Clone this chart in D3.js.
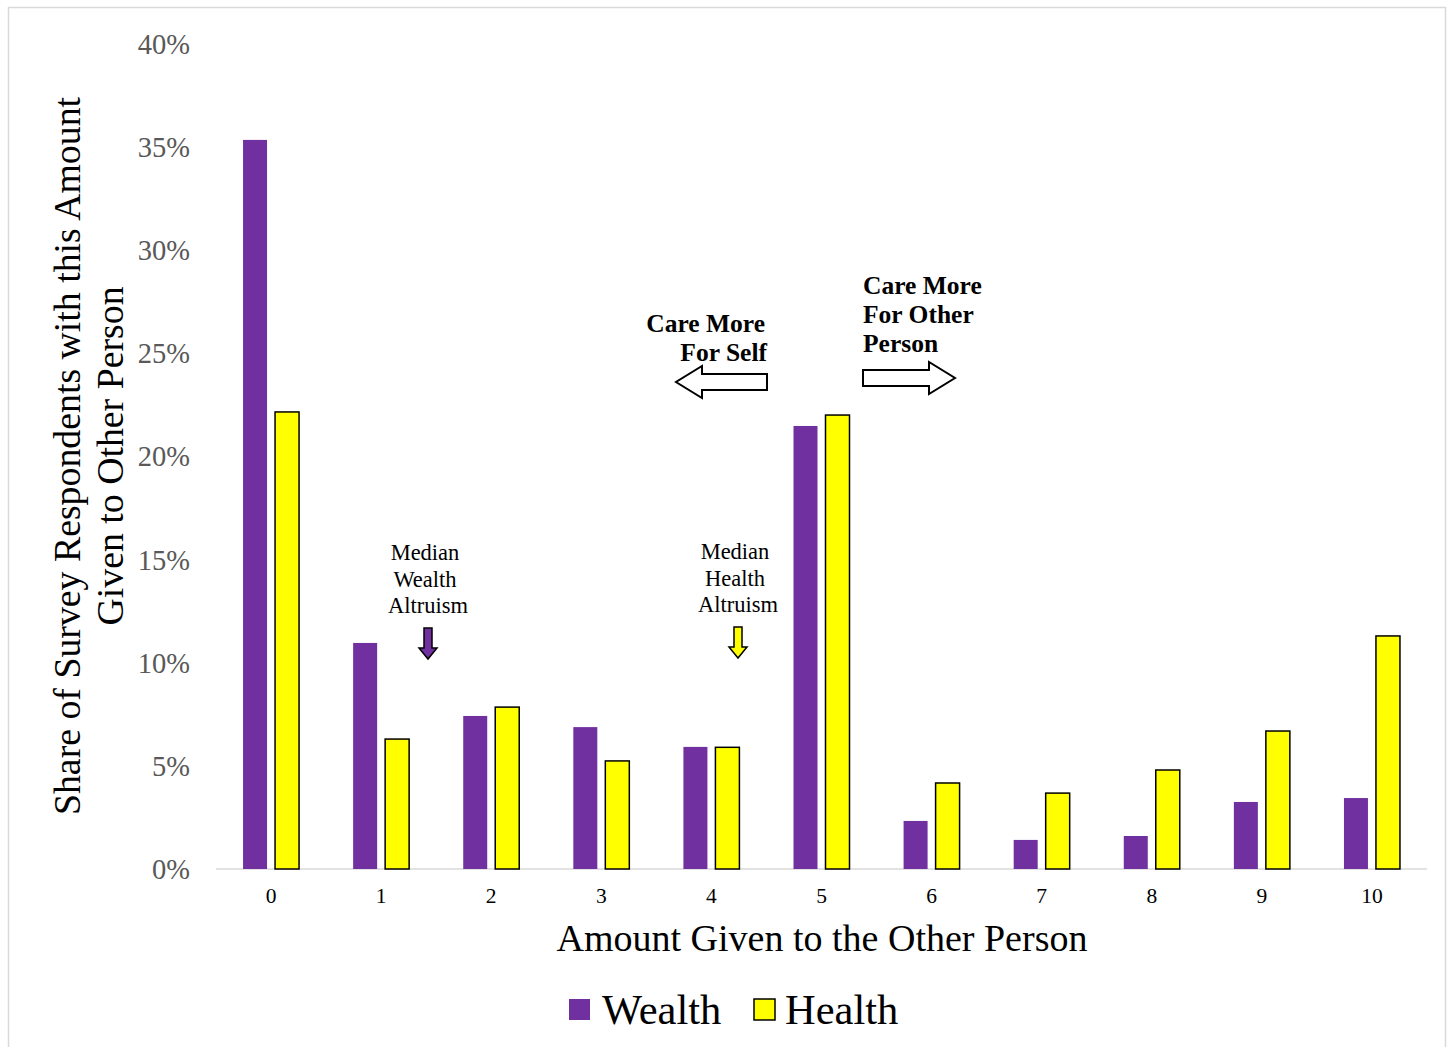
<!DOCTYPE html>
<html>
<head>
<meta charset="utf-8">
<script src="https://cdn.jsdelivr.net/npm/d3@7"></script>
<style>
  body { margin: 0; background: #fff; }
  text { font-family: "Liberation Serif", "Times New Roman", serif; }
</style>
</head>
<body>
<svg id="chart" width="1448" height="1047"></svg>
<script>
// values (percent of respondents)
var amounts = ["0", "1", "2", "3", "4", "5", "6", "7", "8", "9", "10"];
var wealth = [35.35, 10.96, 7.42, 6.88, 5.92, 21.48, 2.33, 1.41, 1.60, 3.25, 3.44];
var health = [22.16, 6.30, 7.85, 5.24, 5.90, 22.01, 4.17, 3.68, 4.80, 6.69, 11.30];
var yTicks = [0, 5, 10, 15, 20, 25, 30, 35, 40];
var seriesNames = ["Wealth", "Health"];

var purple = "#7030a0";
var yellow = "#ffff00";

var svg = d3.select("#chart");

// light frame round the whole chart
svg.append("rect")
    .attr("x", 8.5).attr("y", 7.5)
    .attr("width", 1437).attr("height", 1050)
    .attr("fill", "none")
    .attr("stroke", "#d9d9d9")
    .attr("stroke-width", 1.5);

var x = d3.scaleBand()
    .domain(amounts)
    .range([216, 1427]);

var y = d3.scaleLinear()
    .domain([0, 40])
    .range([869, 44]);

var barW = 24, gap = 8;

// y tick labels (no grid lines)
svg.append("g").selectAll("text")
    .data(yTicks)
    .enter().append("text")
    .attr("x", 190)
    .attr("y", function (d) { return y(d); })
    .attr("dy", "0.35em")
    .attr("text-anchor", "end")
    .attr("fill", "#595959")
    .attr("font-size", 28.5)
    .text(function (d) { return d + "%"; });

// baseline
svg.append("line")
    .attr("x1", 216).attr("x2", 1427)
    .attr("y1", y(0)).attr("y2", y(0))
    .attr("stroke", "#d9d9d9")
    .attr("stroke-width", 1.5);

// bars
svg.append("g").selectAll("rect")
    .data(wealth)
    .enter().append("rect")
    .attr("x", function (d, i) { return x(amounts[i]) + x.bandwidth() / 2 - gap / 2 - barW; })
    .attr("y", function (d) { return y(d); })
    .attr("width", barW)
    .attr("height", function (d) { return y(0) - y(d); })
    .attr("fill", purple);

svg.append("g").selectAll("rect")
    .data(health)
    .enter().append("rect")
    .attr("x", function (d, i) { return x(amounts[i]) + x.bandwidth() / 2 + gap / 2; })
    .attr("y", function (d) { return y(d); })
    .attr("width", barW)
    .attr("height", function (d) { return y(0) - y(d); })
    .attr("fill", yellow)
    .attr("stroke", "#000")
    .attr("stroke-width", 1.5);

// x tick labels
svg.append("g").selectAll("text")
    .data(amounts)
    .enter().append("text")
    .attr("x", function (d) { return x(d) + x.bandwidth() / 2; })
    .attr("y", 903)
    .attr("text-anchor", "middle")
    .attr("font-size", 21.5)
    .text(function (d) { return d; });

// axis titles
svg.append("text")
    .attr("x", 822).attr("y", 951)
    .attr("text-anchor", "middle")
    .attr("font-size", 38)
    .text("Amount Given to the Other Person");

var yTitle = svg.append("text")
    .attr("transform", "translate(88,456) rotate(-90)")
    .attr("text-anchor", "middle")
    .attr("font-size", 37.8);
yTitle.append("tspan").attr("x", 0).attr("y", -8).text("Share of Survey Respondents with this Amount");
yTitle.append("tspan").attr("x", 0).attr("y", 35).text("Given to Other Person");

// legend
var legend = svg.append("g");
legend.append("rect")
    .attr("x", 569).attr("y", 999).attr("width", 21).attr("height", 21)
    .attr("fill", purple);
legend.append("text")
    .attr("x", 602).attr("y", 1024)
    .attr("font-size", 42.5)
    .text(seriesNames[0]);
legend.append("rect")
    .attr("x", 754).attr("y", 999).attr("width", 21).attr("height", 21)
    .attr("fill", yellow).attr("stroke", "#000").attr("stroke-width", 1.5);
legend.append("text")
    .attr("x", 785).attr("y", 1024)
    .attr("font-size", 42.5)
    .text(seriesNames[1]);

// "care more" annotations with hollow block arrows
function blockArrow(x0, x1, cy, dir) {
    // hollow arrow pointing left (dir -1) or right (dir 1)
    var shaft = 8, head = 16, headLen = 26;
    var tail = dir > 0 ? x0 : x1;
    var tip = dir > 0 ? x1 : x0;
    var neck = tip - dir * headLen;
    var pts = [
        [tail, cy - shaft], [neck, cy - shaft], [neck, cy - head],
        [tip, cy], [neck, cy + head], [neck, cy + shaft], [tail, cy + shaft]
    ];
    svg.append("path")
        .attr("d", d3.line()(pts) + "Z")
        .attr("fill", "#fff")
        .attr("stroke", "#000")
        .attr("stroke-width", 2);
}

var selfNote = svg.append("text")
    .attr("text-anchor", "end")
    .attr("font-size", 25.5)
    .attr("font-weight", "bold");
selfNote.append("tspan").attr("x", 765).attr("y", 332).text("Care More");
selfNote.append("tspan").attr("x", 767).attr("y", 361).text("For Self");
blockArrow(676, 767, 382, -1);

var otherNote = svg.append("text")
    .attr("text-anchor", "start")
    .attr("font-size", 25.5)
    .attr("font-weight", "bold");
otherNote.append("tspan").attr("x", 863).attr("y", 294).text("Care More");
otherNote.append("tspan").attr("x", 863).attr("y", 323).text("For Other");
otherNote.append("tspan").attr("x", 863).attr("y", 352).text("Person");
blockArrow(863, 955, 378, 1);

// median markers
function medianNote(cx, top, word, fill) {
    var t = svg.append("text")
        .attr("text-anchor", "middle")
        .attr("font-size", 22.5);
    t.append("tspan").attr("x", cx - 3).attr("y", top).text("Median");
    t.append("tspan").attr("x", cx - 3).attr("y", top + 27).text(word);
    t.append("tspan").attr("x", cx).attr("y", top + 53).text("Altruism");
    var ay = top + 68;
    var pts = [
        [cx - 4, ay], [cx + 4, ay], [cx + 4, ay + 20], [cx + 9, ay + 20],
        [cx, ay + 31], [cx - 9, ay + 20], [cx - 4, ay + 20]
    ];
    svg.append("path")
        .attr("d", d3.line()(pts) + "Z")
        .attr("fill", fill)
        .attr("stroke", "#000")
        .attr("stroke-width", 1.5);
}
medianNote(428, 560, "Wealth", purple);
medianNote(738, 559, "Health", yellow);
</script>
</body>
</html>
